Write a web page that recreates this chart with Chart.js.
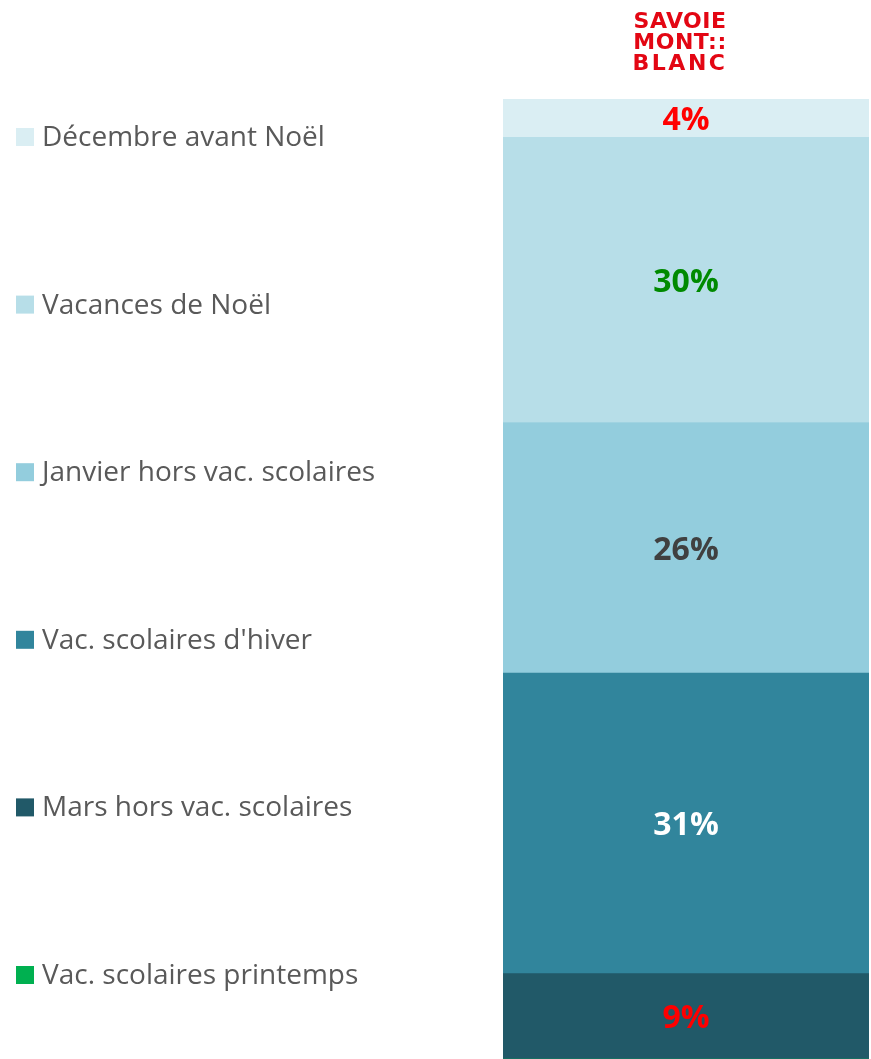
<!DOCTYPE html>
<html>
<head>
<meta charset="utf-8">
<script src="https://cdn.jsdelivr.net/npm/chart.js"></script>
<style>
  body { margin: 0; background: #fff; }
  #wrap { position: relative; width: 871px; height: 1059px; }
  #logo {
    position: absolute; left: 600px; top: 11px; width: 160px;
    text-align: center; color: #e30613;
    font-family: "DejaVu Sans", sans-serif; font-weight: bold;
    font-size: 22px; line-height: 20.8px;
  }
</style>
</head>
<body>
<div id="wrap">
  <canvas id="chart" width="871" height="1059"></canvas>
  <div id="logo">
    <div style="letter-spacing:0.5px">SAVOIE</div>
    <div style="letter-spacing:0.5px">MONT::</div>
    <div style="letter-spacing:2.5px">BLANC</div>
  </div>
</div>
<script>
// series, bottom of the stack first
const periods = [
  "Vac. scolaires printemps",
  "Mars hors vac. scolaires",
  "Vac. scolaires d'hiver",
  "Janvier hors vac. scolaires",
  "Vacances de Noël",
  "Décembre avant Noël",
];
const shares = [0, 8.9, 31.3, 26.1, 29.7, 4.0];
const colors = ["#00b050", "#215968", "#31859c", "#93cddd", "#b7dee8", "#daeef3"];
const labelColors = ["#ff0000", "#ff0000", "#ffffff", "#404040", "#008a00", "#ff0000"];

// values in the middle of each segment
const segmentLabels = {
  id: "segmentLabels",
  afterDatasetsDraw(chart) {
    const ctx = chart.ctx;
    ctx.save();
    ctx.font = "bold 32px 'Open Sans'";
    ctx.textAlign = "center";
    ctx.textBaseline = "middle";
    chart.data.datasets.forEach((ds, i) => {
      const v = ds.data[0];
      if (!v) return;
      const bar = chart.getDatasetMeta(i).data[0];
      ctx.fillStyle = labelColors[i];
      ctx.fillText(Math.round(v) + "%", bar.x, (bar.y + bar.base) / 2 + 3);
    });
    ctx.restore();
  },
};

// legend on the left, top item = top of the stack
const sideLegend = {
  id: "sideLegend",
  afterDraw(chart) {
    const ctx = chart.ctx;
    const items = chart.data.datasets.slice().reverse();
    ctx.save();
    ctx.font = "28px 'Open Sans'";
    ctx.textBaseline = "middle";
    items.forEach((ds, i) => {
      const y = 137 + i * 167.6;
      ctx.fillStyle = ds.backgroundColor;
      ctx.fillRect(16, y - 9, 18, 18);
      ctx.fillStyle = "#595959";
      ctx.fillText(ds.label, 42, y + 1);
    });
    ctx.restore();
  },
};

document.fonts.load("28px 'Open Sans'").then(() => document.fonts.load("bold 32px 'Open Sans'")).then(() => {
  new Chart(document.getElementById("chart"), {
    type: "bar",
    data: {
      labels: [""],
      datasets: periods.map((p, i) => ({
        label: p,
        data: [shares[i]],
        backgroundColor: colors[i],
        borderWidth: 0,
        barPercentage: 1,
        categoryPercentage: 1,
      })),
    },
    options: {
      responsive: false,
      animation: false,
      layout: { padding: { left: 503, right: 2, top: 99, bottom: 0 } },
      scales: {
        x: { display: false, stacked: true },
        y: { display: false, stacked: true, min: 0, max: 100 },
      },
      plugins: {
        legend: { display: false },
        tooltip: { enabled: false },
      },
    },
    plugins: [segmentLabels, sideLegend],
  });
});
</script>
</body>
</html>
